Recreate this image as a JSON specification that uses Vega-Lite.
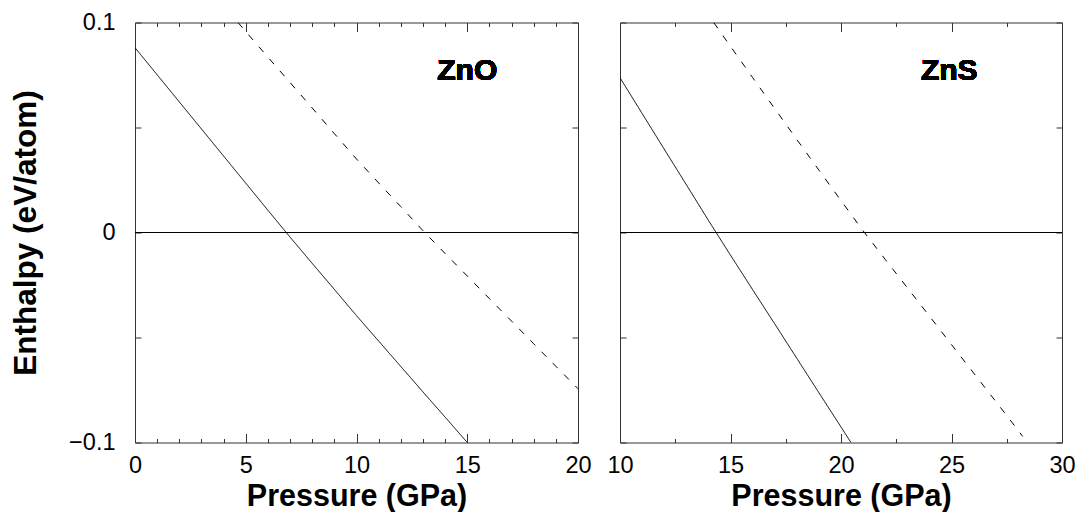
{
  "$schema": "https://vega.github.io/schema/vega-lite/v6.json",
  "background": "white",
  "autosize": {"type": "pad"},
  "padding": {"left": 10, "top": 9.5, "right": 5, "bottom": 0},
  "spacing": 42,
  "bounds": "flush",
  "datasets": {
    "enthalpy": [
      {"material": "ZnO", "series": "A", "p": 0, "h": 0.088},
      {"material": "ZnO", "series": "A", "p": 1, "h": 0.0751},
      {"material": "ZnO", "series": "A", "p": 2, "h": 0.0622},
      {"material": "ZnO", "series": "A", "p": 3, "h": 0.0493},
      {"material": "ZnO", "series": "A", "p": 4, "h": 0.0364},
      {"material": "ZnO", "series": "A", "p": 5, "h": 0.0235},
      {"material": "ZnO", "series": "A", "p": 6, "h": 0.0106},
      {"material": "ZnO", "series": "A", "p": 7, "h": -0.0022},
      {"material": "ZnO", "series": "A", "p": 8, "h": -0.0147},
      {"material": "ZnO", "series": "A", "p": 9, "h": -0.0271},
      {"material": "ZnO", "series": "A", "p": 10, "h": -0.0396},
      {"material": "ZnO", "series": "A", "p": 11, "h": -0.0517},
      {"material": "ZnO", "series": "A", "p": 12, "h": -0.0638},
      {"material": "ZnO", "series": "A", "p": 13, "h": -0.0759},
      {"material": "ZnO", "series": "A", "p": 14, "h": -0.0879},
      {"material": "ZnO", "series": "A", "p": 15, "h": -0.1},
      {"material": "ZnO", "series": "B", "p": 4.65, "h": 0.1},
      {"material": "ZnO", "series": "B", "p": 5, "h": 0.0957},
      {"material": "ZnO", "series": "B", "p": 6, "h": 0.0835},
      {"material": "ZnO", "series": "B", "p": 7, "h": 0.0714},
      {"material": "ZnO", "series": "B", "p": 8, "h": 0.0593},
      {"material": "ZnO", "series": "B", "p": 9, "h": 0.0471},
      {"material": "ZnO", "series": "B", "p": 10, "h": 0.035},
      {"material": "ZnO", "series": "B", "p": 11, "h": 0.0236},
      {"material": "ZnO", "series": "B", "p": 12, "h": 0.0123},
      {"material": "ZnO", "series": "B", "p": 13, "h": 0.0009},
      {"material": "ZnO", "series": "B", "p": 14, "h": -0.01},
      {"material": "ZnO", "series": "B", "p": 15, "h": -0.0207},
      {"material": "ZnO", "series": "B", "p": 16, "h": -0.0315},
      {"material": "ZnO", "series": "B", "p": 17, "h": -0.0422},
      {"material": "ZnO", "series": "B", "p": 18, "h": -0.053},
      {"material": "ZnO", "series": "B", "p": 19, "h": -0.0637},
      {"material": "ZnO", "series": "B", "p": 20, "h": -0.0744},
      {"material": "ZnS", "series": "A", "p": 10, "h": 0.0737},
      {"material": "ZnS", "series": "A", "p": 11, "h": 0.0567},
      {"material": "ZnS", "series": "A", "p": 12, "h": 0.0397},
      {"material": "ZnS", "series": "A", "p": 13, "h": 0.0228},
      {"material": "ZnS", "series": "A", "p": 14, "h": 0.0058},
      {"material": "ZnS", "series": "A", "p": 15, "h": -0.0108},
      {"material": "ZnS", "series": "A", "p": 16, "h": -0.0272},
      {"material": "ZnS", "series": "A", "p": 17, "h": -0.0435},
      {"material": "ZnS", "series": "A", "p": 18, "h": -0.0599},
      {"material": "ZnS", "series": "A", "p": 19, "h": -0.0763},
      {"material": "ZnS", "series": "A", "p": 20, "h": -0.0926},
      {"material": "ZnS", "series": "A", "p": 20.45, "h": -0.1},
      {"material": "ZnS", "series": "B", "p": 14.24, "h": 0.1},
      {"material": "ZnS", "series": "B", "p": 15, "h": 0.0886},
      {"material": "ZnS", "series": "B", "p": 16, "h": 0.0738},
      {"material": "ZnS", "series": "B", "p": 17, "h": 0.059},
      {"material": "ZnS", "series": "B", "p": 18, "h": 0.0443},
      {"material": "ZnS", "series": "B", "p": 19, "h": 0.0297},
      {"material": "ZnS", "series": "B", "p": 20, "h": 0.0152},
      {"material": "ZnS", "series": "B", "p": 21, "h": 0.0008},
      {"material": "ZnS", "series": "B", "p": 22, "h": -0.0128},
      {"material": "ZnS", "series": "B", "p": 23, "h": -0.0263},
      {"material": "ZnS", "series": "B", "p": 24, "h": -0.0398},
      {"material": "ZnS", "series": "B", "p": 25, "h": -0.0534},
      {"material": "ZnS", "series": "B", "p": 26, "h": -0.0669},
      {"material": "ZnS", "series": "B", "p": 27, "h": -0.0804},
      {"material": "ZnS", "series": "B", "p": 28, "h": -0.094},
      {"material": "ZnS", "series": "B", "p": 28.22, "h": -0.0971}
    ]
  },
  "hconcat": [
    {
      "width": 443,
      "height": 420,
      "data": {"name": "enthalpy"},
      "transform": [{"filter": "datum.material === 'ZnO'"}],
      "layer": [
        {
          "mark": {"type": "line", "color": "black", "strokeWidth": 1, "clip": true},
          "encoding": {
            "x": {
              "field": "p", "type": "quantitative",
              "scale": {"domain": [0, 20], "nice": false, "zero": false},
              "axis": {
                "orient": "bottom",
                "values": [0, 1, 2, 3, 4, 5, 6, 7, 8, 9, 10, 11, 12, 13, 14, 15, 16, 17, 18, 19, 20],
                "format": "d",
                "labelExpr": "datum.value % 5 === 0 ? datum.label : ''",
                "tickSize": {"condition": {"test": "datum.value % 5 === 0", "value": -9}, "value": -4},
                "labelPadding": 19.5,
                "title": "Pressure (GPa)",
                "titlePadding": 0
              }
            },
            "y": {
              "field": "h", "type": "quantitative",
              "scale": {"domain": [-0.1, 0.1], "nice": false, "zero": false},
              "axis": {
                "orient": "left",
                "values": [-0.1, -0.05, 0, 0.05, 0.1],
                "format": ".2~f",
                "labelExpr": "abs(datum.value) === 0.05 ? '' : datum.label",
                "tickSize": -6,
                "labelPadding": 26,
                "labelBaseline": "middle",
                "title": "Enthalpy (eV/atom)",
                "titleFontSize": 31.5,
                "titlePadding": 26
              }
            },
            "strokeDash": {
              "field": "series", "type": "nominal",
              "scale": {"domain": ["A", "B"], "range": [[1, 0], [7, 9]]},
              "legend": null
            },
            "detail": {"field": "series"}
          }
        },
        {
          "mark": {"type": "rule", "color": "black", "strokeWidth": 1},
          "encoding": {"y": {"datum": 0, "type": "quantitative", "axis": null}}
        },
        {
          "mark": {"type": "text", "fontSize": 30, "fontWeight": "bold", "baseline": "alphabetic", "align": "center", "color": "black"},
          "encoding": {
            "text": {"value": "ZnO"},
            "x": {
              "datum": 15, "type": "quantitative",
              "axis": {
                "orient": "top",
                "values": [0, 1, 2, 3, 4, 5, 6, 7, 8, 9, 10, 11, 12, 13, 14, 15, 16, 17, 18, 19, 20],
                "labels": false,
                "tickSize": {"condition": {"test": "datum.value % 5 === 0", "value": -9}, "value": -4},
                "title": null
              }
            },
            "y": {
              "datum": 0.0727, "type": "quantitative",
              "axis": {
                "orient": "right",
                "values": [-0.1, -0.05, 0, 0.05, 0.1],
                "labels": false,
                "tickSize": -6,
                "title": null
              }
            }
          }
        }
      ],
      "resolve": {"axis": {"x": "independent", "y": "independent"}}
    },
    {
      "width": 442,
      "height": 420,
      "data": {"name": "enthalpy"},
      "transform": [{"filter": "datum.material === 'ZnS'"}],
      "layer": [
        {
          "mark": {"type": "line", "color": "black", "strokeWidth": 1, "clip": true},
          "encoding": {
            "x": {
              "field": "p", "type": "quantitative",
              "scale": {"domain": [10, 30], "nice": false, "zero": false},
              "axis": {
                "orient": "bottom",
                "values": [10, 12.5, 15, 17.5, 20, 22.5, 25, 27.5, 30],
                "format": "~g",
                "labelExpr": "datum.value % 5 === 0 ? datum.label : ''",
                "tickSize": {"condition": {"test": "datum.value % 5 === 0", "value": -9}, "value": -4},
                "labelPadding": 19.5,
                "title": "Pressure (GPa)",
                "titlePadding": 0
              }
            },
            "y": {
              "field": "h", "type": "quantitative",
              "scale": {"domain": [-0.1, 0.1], "nice": false, "zero": false},
              "axis": {
                "orient": "left",
                "values": [-0.1, -0.05, 0, 0.05, 0.1],
                "labels": false,
                "tickSize": -6,
                "title": null
              }
            },
            "strokeDash": {
              "field": "series", "type": "nominal",
              "scale": {"domain": ["A", "B"], "range": [[1, 0], [7, 9]]},
              "legend": null
            },
            "detail": {"field": "series"}
          }
        },
        {
          "mark": {"type": "rule", "color": "black", "strokeWidth": 1},
          "encoding": {"y": {"datum": 0, "type": "quantitative", "axis": null}}
        },
        {
          "mark": {"type": "text", "fontSize": 30, "fontWeight": "bold", "baseline": "alphabetic", "align": "center", "color": "black"},
          "encoding": {
            "text": {"value": "ZnS"},
            "x": {
              "datum": 24.9, "type": "quantitative",
              "axis": {
                "orient": "top",
                "values": [10, 12.5, 15, 17.5, 20, 22.5, 25, 27.5, 30],
                "labels": false,
                "tickSize": {"condition": {"test": "datum.value % 5 === 0", "value": -9}, "value": -4},
                "title": null
              }
            },
            "y": {
              "datum": 0.0727, "type": "quantitative",
              "axis": {
                "orient": "right",
                "values": [-0.1, -0.05, 0, 0.05, 0.1],
                "labels": false,
                "tickSize": -6,
                "title": null
              }
            }
          }
        }
      ],
      "resolve": {"axis": {"x": "independent", "y": "independent"}}
    }
  ],
  "config": {
    "font": "Liberation Sans",
    "view": {"stroke": "#333", "strokeWidth": 1},
    "axis": {
      "domain": false,
      "grid": false,
      "tickColor": "#333",
      "tickWidth": 1,
      "labelFont": "Liberation Sans",
      "labelFontSize": 23.5,
      "labelColor": "black",
      "labelFlush": false,
      "labelOverlap": false,
      "titleFont": "Liberation Sans",
      "titleFontSize": 30.5,
      "titleFontWeight": "bold",
      "titleColor": "black"
    },
    "text": {"font": "Liberation Sans"}
  }
}
